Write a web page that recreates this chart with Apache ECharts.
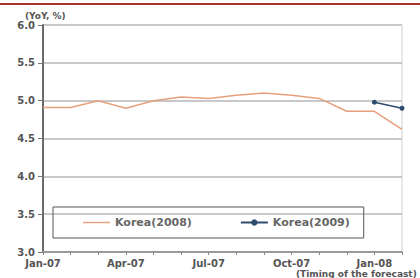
<!DOCTYPE html>
<html><head><meta charset="utf-8">
<script src="https://cdn.jsdelivr.net/npm/echarts@6/dist/echarts.min.js"></script>
<style>html,body{margin:0;padding:0;background:#fff}#c{width:420px;height:278px}</style>
</head><body><div id="c"></div>
<script>
const categories = ['Jan-07','Feb-07','Mar-07','Apr-07','May-07','Jun-07','Jul-07','Aug-07','Sep-07','Oct-07','Nov-07','Dec-07','Jan-08','Feb-08'];
const korea2008 = [4.91,4.91,5.0,4.9,5.0,5.05,5.03,5.07,5.1,5.07,5.03,4.86,4.86,4.62];
const korea2009 = [null,null,null,null,null,null,null,null,null,null,null,null,4.98,4.9];
const yTicks = [3.0,3.5,4.0,4.5,5.0,5.5,6.0];
const font = 'DejaVu Sans';
const chart = echarts.init(document.getElementById('c'), null, {renderer:'svg'});
chart.setOption({
  animation:false,
  backgroundColor:'#fff',
  grid:{left:43,right:18,top:25,bottom:26,show:true,borderColor:'#cfcfcf',borderWidth:1},
  xAxis:{type:'category',data:categories,boundaryGap:false,
    axisLine:{lineStyle:{color:'#9a9a9a',width:2}},
    axisTick:{show:true,interval:0,length:3,lineStyle:{color:'#888'}},
    axisLabel:{interval:2,color:'#555',fontFamily:font,fontSize:10,fontWeight:'bold',margin:6},
    splitLine:{show:false}},
  yAxis:{type:'value',min:yTicks[0],max:yTicks[yTicks.length-1],interval:0.5,
    axisLine:{show:true,lineStyle:{color:'#6a6a6a',width:2}},
    axisTick:{show:true,length:5,lineStyle:{color:'#777'}},
    axisLabel:{color:'#555',fontFamily:font,fontSize:10,fontWeight:'bold',margin:8,formatter:v=>v.toFixed(1)},
    splitLine:{lineStyle:{color:'#c8c8c8',width:2}}},
  legend:{left:53,top:207,width:327,borderColor:'#555',borderWidth:1,padding:[10,14,10,30],itemGap:48,itemWidth:27,itemHeight:8,
    textStyle:{color:'#666',fontFamily:font,fontSize:11,fontWeight:'bold'},
    data:[{name:'Korea(2008)',icon:'path://M0 0H30V1.6H0Z',itemStyle:{color:'#e6a07c'}},{name:'Korea(2009)'}]},
  graphic:[
    {type:'rect',shape:{x:0,y:3,width:420,height:2},style:{fill:'#a83232'}},
    {type:'text',left:25,top:11,style:{text:'(YoY, %)',fill:'#555',font:'bold 9px "DejaVu Sans"'}},
    {type:'text',left:296,top:269,style:{text:'(Timing of the forecast)',fill:'#555',font:'bold 9px "DejaVu Sans"'}}
  ],
  series:[
    {name:'Korea(2008)',type:'line',data:korea2008,showSymbol:false,symbol:'none',
      lineStyle:{color:'#e6a07c',width:1.5},itemStyle:{color:'#e6a07c'}},
    {name:'Korea(2009)',type:'line',data:korea2009,symbol:'circle',symbolSize:5,
      lineStyle:{color:'#2d4d6e',width:1.5},itemStyle:{color:'#2d4d6e'}}
  ]
});
</script></body></html>
